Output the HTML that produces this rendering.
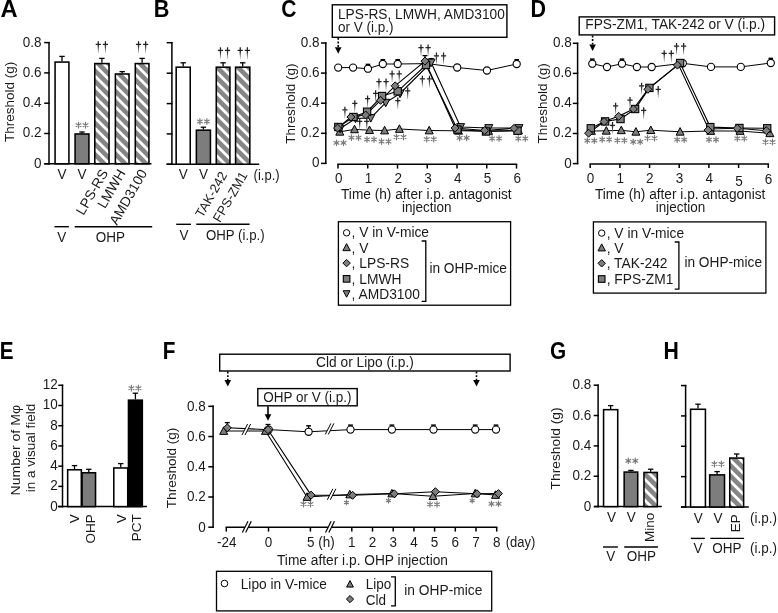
<!DOCTYPE html>
<html><head><meta charset="utf-8"><style>
html,body{margin:0;padding:0;background:#fff;}
svg{display:block;font-family:"Liberation Sans",sans-serif;filter:grayscale(1);}
</style></head><body>
<svg width="778" height="613" viewBox="0 0 778 613">
<rect width="778" height="613" fill="#fff"/>
<defs><pattern id="hatch" patternUnits="userSpaceOnUse" width="7.4" height="7.4" patternTransform="rotate(45)">
<rect width="7.4" height="7.4" fill="#858585"/><rect y="0" width="7.4" height="2.8" fill="#fff"/></pattern>
<linearGradient id="blade" x1="0" y1="0" x2="0" y2="1"><stop offset="0" stop-color="#222"/><stop offset="1" stop-color="#999"/></linearGradient></defs>
<text x="0" y="0" font-size="22.6" font-weight="bold" fill="#000" transform="translate(0.52 16.6) scale(1.05 1.05)">A</text>
<line x1="49" y1="41.9" x2="49" y2="164.5" stroke="#000" stroke-width="1.5" />
<line x1="44.2" y1="163.8" x2="49.7" y2="163.8" stroke="#000" stroke-width="1.5" />
<line x1="44.2" y1="133.5" x2="49.7" y2="133.5" stroke="#000" stroke-width="1.5" />
<line x1="44.2" y1="103.2" x2="49.7" y2="103.2" stroke="#000" stroke-width="1.5" />
<line x1="44.2" y1="72.9" x2="49.7" y2="72.9" stroke="#000" stroke-width="1.5" />
<line x1="44.2" y1="42.6" x2="49.7" y2="42.6" stroke="#000" stroke-width="1.5" />
<text x="41.6" y="167.8" font-size="13.5" text-anchor="end" fill="#1a1a1a" transform="translate(0 -13.42) scale(1 1.08)" >0</text>
<text x="41.6" y="137.5" font-size="13.5" text-anchor="end" fill="#1a1a1a" transform="translate(0 -11) scale(1 1.08)" >0.2</text>
<text x="41.6" y="107.2" font-size="13.5" text-anchor="end" fill="#1a1a1a" transform="translate(0 -8.58) scale(1 1.08)" >0.4</text>
<text x="41.6" y="76.9" font-size="13.5" text-anchor="end" fill="#1a1a1a" transform="translate(0 -6.15) scale(1 1.08)" >0.6</text>
<text x="41.6" y="46.6" font-size="13.5" text-anchor="end" fill="#1a1a1a" transform="translate(0 -3.73) scale(1 1.08)" >0.8</text>
<line x1="44.3" y1="163.8" x2="151.5" y2="163.8" stroke="#000" stroke-width="1.5" />
<text x="14.2" y="101.8" font-size="13.5" text-anchor="middle" fill="#1a1a1a" transform="rotate(-90 14.2 101.8)" >Threshold (g)</text>
<line x1="62" y1="61.3" x2="62" y2="56.4" stroke="#000" stroke-width="1.3" />
<line x1="59.3" y1="56.4" x2="64.7" y2="56.4" stroke="#000" stroke-width="1.3" />
<rect x="55.07" y="62.07" width="13.85" height="101.73" fill="#fff" stroke="#000" stroke-width="1.55" />
<line x1="82" y1="133.2" x2="82" y2="132" stroke="#000" stroke-width="1.3" />
<line x1="79.3" y1="132" x2="84.7" y2="132" stroke="#000" stroke-width="1.3" />
<rect x="75.08" y="133.97" width="13.85" height="29.83" fill="#7d7d7d" stroke="#000" stroke-width="1.55" />
<line x1="101.9" y1="62.8" x2="101.9" y2="58.4" stroke="#000" stroke-width="1.3" />
<line x1="99.2" y1="58.4" x2="104.6" y2="58.4" stroke="#000" stroke-width="1.3" />
<rect x="94.78" y="63.57" width="14.25" height="100.23" fill="url(#hatch)" stroke="#000" stroke-width="1.55" />
<line x1="122.2" y1="73.2" x2="122.2" y2="71.6" stroke="#000" stroke-width="1.3" />
<line x1="119.5" y1="71.6" x2="124.9" y2="71.6" stroke="#000" stroke-width="1.3" />
<rect x="115.38" y="73.98" width="13.65" height="89.83" fill="url(#hatch)" stroke="#000" stroke-width="1.55" />
<line x1="142.1" y1="62.8" x2="142.1" y2="58.4" stroke="#000" stroke-width="1.3" />
<line x1="139.4" y1="58.4" x2="144.8" y2="58.4" stroke="#000" stroke-width="1.3" />
<rect x="135.28" y="63.57" width="13.65" height="100.23" fill="url(#hatch)" stroke="#000" stroke-width="1.55" />
<path d="M78.5 122.3V127.9M76.08 123.7L80.92 126.5M76.08 126.5L80.92 123.7" stroke="#7a7a7a" stroke-width="1.2" stroke-linecap="round" fill="none"/>
<path d="M85.5 122.3V127.9M83.08 123.7L87.92 126.5M83.08 126.5L87.92 123.7" stroke="#7a7a7a" stroke-width="1.2" stroke-linecap="round" fill="none"/>
<path d="M98.3 41.2V44.98M95.7 44.38H100.9" stroke="#222" stroke-width="1.25" fill="none"/>
<path d="M97.55 44.78L99.05 44.78L98.5 52.9L98.1 52.9Z" fill="url(#blade)"/>
<path d="M105.4 41.2V44.98M102.8 44.38H108" stroke="#222" stroke-width="1.25" fill="none"/>
<path d="M104.65 44.78L106.15 44.78L105.6 52.9L105.2 52.9Z" fill="url(#blade)"/>
<path d="M138.55 41.2V44.98M135.95 44.38H141.15" stroke="#222" stroke-width="1.25" fill="none"/>
<path d="M137.8 44.78L139.3 44.78L138.75 52.9L138.35 52.9Z" fill="url(#blade)"/>
<path d="M145.65 41.2V44.98M143.05 44.38H148.25" stroke="#222" stroke-width="1.25" fill="none"/>
<path d="M144.9 44.78L146.4 44.78L145.85 52.9L145.45 52.9Z" fill="url(#blade)"/>
<text x="62" y="179.5" font-size="13.5" text-anchor="middle" fill="#1a1a1a" transform="translate(0 -14.36) scale(1 1.08)" >V</text>
<text x="82" y="179.5" font-size="13.5" text-anchor="middle" fill="#1a1a1a" transform="translate(0 -14.36) scale(1 1.08)" >V</text>
<text x="108.5" y="172.8" font-size="13.8" text-anchor="end" fill="#1a1a1a" transform="rotate(-60 108.5 172.8)" >LPS-RS</text>
<text x="126" y="172.8" font-size="13.8" text-anchor="end" fill="#1a1a1a" transform="rotate(-60 126 172.8)" >LMWH</text>
<text x="147.6" y="172.8" font-size="13.8" text-anchor="end" fill="#1a1a1a" transform="rotate(-60 147.6 172.8)" >AMD3100</text>
<line x1="54.5" y1="226.7" x2="68.9" y2="226.7" stroke="#000" stroke-width="1.4" />
<line x1="74.7" y1="226.7" x2="152.2" y2="226.7" stroke="#000" stroke-width="1.4" />
<text x="61.7" y="242" font-size="13.5" text-anchor="middle" fill="#1a1a1a" transform="translate(0 -19.36) scale(1 1.08)" >V</text>
<text x="110.5" y="242" font-size="13.5" text-anchor="middle" fill="#1a1a1a" transform="translate(0 -19.36) scale(1 1.08)" >OHP</text>
<text x="0" y="0" font-size="22.6" font-weight="bold" fill="#000" transform="translate(153.65 16.7) scale(0.96 1.05)">B</text>
<line x1="171.9" y1="42" x2="171.9" y2="164.9" stroke="#000" stroke-width="1.5" />
<line x1="166.7" y1="164.2" x2="172.6" y2="164.2" stroke="#000" stroke-width="1.5" />
<line x1="166.7" y1="133.9" x2="172.6" y2="133.9" stroke="#000" stroke-width="1.5" />
<line x1="166.7" y1="103.6" x2="172.6" y2="103.6" stroke="#000" stroke-width="1.5" />
<line x1="166.7" y1="73.2" x2="172.6" y2="73.2" stroke="#000" stroke-width="1.5" />
<line x1="166.7" y1="42.7" x2="172.6" y2="42.7" stroke="#000" stroke-width="1.5" />
<line x1="166.5" y1="164.2" x2="259.2" y2="164.2" stroke="#000" stroke-width="1.5" />
<line x1="183.2" y1="66.4" x2="183.2" y2="62.8" stroke="#000" stroke-width="1.3" />
<line x1="180.5" y1="62.8" x2="185.9" y2="62.8" stroke="#000" stroke-width="1.3" />
<rect x="176.18" y="67.18" width="14.05" height="97.02" fill="#fff" stroke="#000" stroke-width="1.55" />
<line x1="203.4" y1="129.4" x2="203.4" y2="127.2" stroke="#000" stroke-width="1.3" />
<line x1="200.7" y1="127.2" x2="206.1" y2="127.2" stroke="#000" stroke-width="1.3" />
<rect x="196.38" y="130.18" width="14.05" height="34.02" fill="#7d7d7d" stroke="#000" stroke-width="1.55" />
<line x1="223.1" y1="66.4" x2="223.1" y2="62.8" stroke="#000" stroke-width="1.3" />
<line x1="220.4" y1="62.8" x2="225.8" y2="62.8" stroke="#000" stroke-width="1.3" />
<rect x="216.28" y="67.18" width="13.65" height="97.02" fill="url(#hatch)" stroke="#000" stroke-width="1.55" />
<line x1="242.7" y1="66.4" x2="242.7" y2="62.8" stroke="#000" stroke-width="1.3" />
<line x1="240" y1="62.8" x2="245.4" y2="62.8" stroke="#000" stroke-width="1.3" />
<rect x="235.58" y="67.18" width="14.25" height="97.02" fill="url(#hatch)" stroke="#000" stroke-width="1.55" />
<path d="M199.9 118.7V124.3M197.48 120.1L202.32 122.9M197.48 122.9L202.32 120.1" stroke="#7a7a7a" stroke-width="1.2" stroke-linecap="round" fill="none"/>
<path d="M206.9 118.7V124.3M204.48 120.1L209.32 122.9M204.48 122.9L209.32 120.1" stroke="#7a7a7a" stroke-width="1.2" stroke-linecap="round" fill="none"/>
<path d="M220.45 47.2V50.98M217.85 50.38H223.05" stroke="#222" stroke-width="1.25" fill="none"/>
<path d="M219.7 50.78L221.2 50.78L220.65 58.9L220.25 58.9Z" fill="url(#blade)"/>
<path d="M227.55 47.2V50.98M224.95 50.38H230.15" stroke="#222" stroke-width="1.25" fill="none"/>
<path d="M226.8 50.78L228.3 50.78L227.75 58.9L227.35 58.9Z" fill="url(#blade)"/>
<path d="M240.25 47.2V50.98M237.65 50.38H242.85" stroke="#222" stroke-width="1.25" fill="none"/>
<path d="M239.5 50.78L241 50.78L240.45 58.9L240.05 58.9Z" fill="url(#blade)"/>
<path d="M247.35 47.2V50.98M244.75 50.38H249.95" stroke="#222" stroke-width="1.25" fill="none"/>
<path d="M246.6 50.78L248.1 50.78L247.55 58.9L247.15 58.9Z" fill="url(#blade)"/>
<text x="183.2" y="179.5" font-size="13.5" text-anchor="middle" fill="#1a1a1a" transform="translate(0 -14.36) scale(1 1.08)" >V</text>
<text x="203.4" y="179.5" font-size="13.5" text-anchor="middle" fill="#1a1a1a" transform="translate(0 -14.36) scale(1 1.08)" >V</text>
<text x="227.6" y="175" font-size="13.0" text-anchor="end" fill="#1a1a1a" transform="rotate(-60 227.6 175)" >TAK-242</text>
<text x="247.9" y="175" font-size="13.0" text-anchor="end" fill="#1a1a1a" transform="rotate(-60 247.9 175)" >FPS-ZM1</text>
<text x="253.6" y="180.3" font-size="13" text-anchor="start" fill="#1a1a1a" transform="translate(0 -14.42) scale(1 1.08)" >(i.p.)</text>
<line x1="176.2" y1="224.3" x2="190.9" y2="224.3" stroke="#000" stroke-width="1.4" />
<line x1="196.3" y1="224.3" x2="249.6" y2="224.3" stroke="#000" stroke-width="1.4" />
<text x="184" y="239.6" font-size="13.5" text-anchor="middle" fill="#1a1a1a" transform="translate(0 -19.17) scale(1 1.08)" >V</text>
<text x="206" y="239.6" font-size="13.5" text-anchor="start" fill="#1a1a1a" textLength="58.6" lengthAdjust="spacingAndGlyphs" transform="translate(0 -19.17) scale(1 1.08)" >OHP (i.p.)</text>
<text x="0" y="0" font-size="22.6" font-weight="bold" fill="#000" transform="translate(281.34 16.7) scale(0.93 1.05)">C</text>
<rect x="332.3" y="4.8" width="174.6" height="32.5" fill="#fff" stroke="#000" stroke-width="1.4" />
<text x="338" y="18.6" font-size="13.5" text-anchor="start" fill="#1a1a1a" textLength="166.8" lengthAdjust="spacingAndGlyphs" transform="translate(0 -1.49) scale(1 1.08)" >LPS-RS, LMWH, AMD3100</text>
<text x="338" y="32.1" font-size="13.5" text-anchor="start" fill="#1a1a1a" transform="translate(0 -2.57) scale(1 1.08)" >or V (i.p.)</text>
<line x1="338.2" y1="37.9" x2="338.2" y2="48.7" stroke="#000" stroke-width="1.6" stroke-dasharray="1.9,1.7"/>
<polygon points="334.9,47.2 341.5,47.2 338.2,53.7" fill="#000"/>
<line x1="325.8" y1="42.3" x2="325.8" y2="164.1" stroke="#000" stroke-width="1.5" />
<line x1="321" y1="163.4" x2="326.5" y2="163.4" stroke="#000" stroke-width="1.5" />
<line x1="321" y1="133.3" x2="326.5" y2="133.3" stroke="#000" stroke-width="1.5" />
<line x1="321" y1="103.2" x2="326.5" y2="103.2" stroke="#000" stroke-width="1.5" />
<line x1="321" y1="73.1" x2="326.5" y2="73.1" stroke="#000" stroke-width="1.5" />
<line x1="321" y1="43" x2="326.5" y2="43" stroke="#000" stroke-width="1.5" />
<text x="319.6" y="167.4" font-size="13.5" text-anchor="end" fill="#1a1a1a" transform="translate(0 -13.39) scale(1 1.08)" >0</text>
<text x="319.6" y="137.3" font-size="13.5" text-anchor="end" fill="#1a1a1a" transform="translate(0 -10.98) scale(1 1.08)" >0.2</text>
<text x="319.6" y="107.2" font-size="13.5" text-anchor="end" fill="#1a1a1a" transform="translate(0 -8.58) scale(1 1.08)" >0.4</text>
<text x="319.6" y="77.1" font-size="13.5" text-anchor="end" fill="#1a1a1a" transform="translate(0 -6.17) scale(1 1.08)" >0.6</text>
<text x="319.6" y="47" font-size="13.5" text-anchor="end" fill="#1a1a1a" transform="translate(0 -3.76) scale(1 1.08)" >0.8</text>
<text x="295.2" y="103.6" font-size="13.5" text-anchor="middle" fill="#1a1a1a" transform="rotate(-90 295.2 103.6)" >Threshold (g)</text>
<line x1="337.2" y1="164.3" x2="517.3" y2="164.3" stroke="#000" stroke-width="1.5" />
<line x1="338" y1="164.3" x2="338" y2="168.6" stroke="#000" stroke-width="1.5" />
<text x="338.8" y="182.9" font-size="13.5" text-anchor="middle" fill="#1a1a1a" transform="translate(0 -14.63) scale(1 1.08)" >0</text>
<line x1="367.75" y1="164.3" x2="367.75" y2="168.6" stroke="#000" stroke-width="1.5" />
<text x="368.55" y="182.9" font-size="13.5" text-anchor="middle" fill="#1a1a1a" transform="translate(0 -14.63) scale(1 1.08)" >1</text>
<line x1="397.5" y1="164.3" x2="397.5" y2="168.6" stroke="#000" stroke-width="1.5" />
<text x="398.3" y="182.9" font-size="13.5" text-anchor="middle" fill="#1a1a1a" transform="translate(0 -14.63) scale(1 1.08)" >2</text>
<line x1="427.25" y1="164.3" x2="427.25" y2="168.6" stroke="#000" stroke-width="1.5" />
<text x="428.05" y="182.9" font-size="13.5" text-anchor="middle" fill="#1a1a1a" transform="translate(0 -14.63) scale(1 1.08)" >3</text>
<line x1="457" y1="164.3" x2="457" y2="168.6" stroke="#000" stroke-width="1.5" />
<text x="457.8" y="182.9" font-size="13.5" text-anchor="middle" fill="#1a1a1a" transform="translate(0 -14.63) scale(1 1.08)" >4</text>
<line x1="486.75" y1="164.3" x2="486.75" y2="168.6" stroke="#000" stroke-width="1.5" />
<text x="487.55" y="182.9" font-size="13.5" text-anchor="middle" fill="#1a1a1a" transform="translate(0 -14.63) scale(1 1.08)" >5</text>
<line x1="516.5" y1="164.3" x2="516.5" y2="168.6" stroke="#000" stroke-width="1.5" />
<text x="517.3" y="182.9" font-size="13.5" text-anchor="middle" fill="#1a1a1a" transform="translate(0 -14.63) scale(1 1.08)" >6</text>
<text x="341" y="199.3" font-size="13.5" text-anchor="start" fill="#1a1a1a" textLength="170.6" lengthAdjust="spacingAndGlyphs" transform="translate(0 -15.94) scale(1 1.08)" >Time (h) after i.p. antagonist</text>
<text x="426.8" y="212.1" font-size="13.5" text-anchor="middle" fill="#1a1a1a" transform="translate(0 -16.97) scale(1 1.08)" >injection</text>
<polyline points="338.2,67.6 353.07,67.6 367.95,68.7 382.82,64 397.7,64 427.45,63.6 457.2,67.5 486.95,70.5 516.7,64" stroke="#000" stroke-width="1.0" fill="none" />
<polyline points="339.8,131.8 354.5,129.4 369.5,130.2 384.6,130.5 399.4,129 429.2,130.5 458.5,130.8 488.5,131 518.5,130.5" stroke="#000" stroke-width="1.0" fill="none" />
<polyline points="340.2,128.5 355.5,118.5 370.8,117.9 385.7,102.6 400,93.5 431.1,62.5 460.6,127 488.8,128 519,128" stroke="#000" stroke-width="1.1" fill="none" />
<polyline points="338.3,127 353.5,117 367.1,111.7 382.1,96 397.7,91.3 426,65 457.4,129.6 486,131.5 517.5,130.7" stroke="#000" stroke-width="1.1" fill="none" />
<polyline points="337.5,128.1 350.9,117 365.6,115 380.5,100.3 395.1,85.8 425,61.1 455.1,128 484.7,130.5 514,128.3" stroke="#000" stroke-width="1.1" fill="none" />
<line x1="367.95" y1="65.7" x2="367.95" y2="64.4" stroke="#000" stroke-width="1.5" />
<line x1="365.65" y1="64.4" x2="370.25" y2="64.4" stroke="#000" stroke-width="1.5" />
<line x1="382.82" y1="61" x2="382.82" y2="59.7" stroke="#000" stroke-width="1.5" />
<line x1="380.52" y1="59.7" x2="385.12" y2="59.7" stroke="#000" stroke-width="1.5" />
<line x1="397.7" y1="61" x2="397.7" y2="59.7" stroke="#000" stroke-width="1.5" />
<line x1="395.4" y1="59.7" x2="400" y2="59.7" stroke="#000" stroke-width="1.5" />
<line x1="516.7" y1="61" x2="516.7" y2="59.7" stroke="#000" stroke-width="1.5" />
<line x1="514.4" y1="59.7" x2="519" y2="59.7" stroke="#000" stroke-width="1.5" />
<line x1="425" y1="58" x2="425" y2="55.6" stroke="#000" stroke-width="1.3" />
<line x1="422.5" y1="55.6" x2="427.5" y2="55.6" stroke="#000" stroke-width="1.3" />
<line x1="431.1" y1="60" x2="431.1" y2="58.6" stroke="#000" stroke-width="1.3" />
<line x1="428.6" y1="58.6" x2="433.6" y2="58.6" stroke="#000" stroke-width="1.3" />
<circle cx="338.2" cy="67.6" r="3.6" fill="#fff" stroke="#000" stroke-width="1.1"/>
<circle cx="353.07" cy="67.6" r="3.6" fill="#fff" stroke="#000" stroke-width="1.1"/>
<circle cx="367.95" cy="68.7" r="3.6" fill="#fff" stroke="#000" stroke-width="1.1"/>
<circle cx="382.82" cy="64" r="3.6" fill="#fff" stroke="#000" stroke-width="1.1"/>
<circle cx="397.7" cy="64" r="3.6" fill="#fff" stroke="#000" stroke-width="1.1"/>
<circle cx="427.45" cy="63.6" r="3.6" fill="#fff" stroke="#000" stroke-width="1.1"/>
<circle cx="457.2" cy="67.5" r="3.6" fill="#fff" stroke="#000" stroke-width="1.1"/>
<circle cx="486.95" cy="70.5" r="3.6" fill="#fff" stroke="#000" stroke-width="1.1"/>
<circle cx="516.7" cy="64" r="3.6" fill="#fff" stroke="#000" stroke-width="1.1"/>
<polygon points="339.8,127.6 343.79,135.16 335.81,135.16" fill="#7d7d7d" stroke="#000" stroke-width="1.0"/>
<polygon points="354.5,125.2 358.49,132.76 350.51,132.76" fill="#7d7d7d" stroke="#000" stroke-width="1.0"/>
<polygon points="369.5,126 373.49,133.56 365.51,133.56" fill="#7d7d7d" stroke="#000" stroke-width="1.0"/>
<polygon points="384.6,126.3 388.59,133.86 380.61,133.86" fill="#7d7d7d" stroke="#000" stroke-width="1.0"/>
<polygon points="399.4,124.8 403.39,132.36 395.41,132.36" fill="#7d7d7d" stroke="#000" stroke-width="1.0"/>
<polygon points="429.2,126.3 433.19,133.86 425.21,133.86" fill="#7d7d7d" stroke="#000" stroke-width="1.0"/>
<polygon points="458.5,126.6 462.49,134.16 454.51,134.16" fill="#7d7d7d" stroke="#000" stroke-width="1.0"/>
<polygon points="488.5,126.8 492.49,134.36 484.51,134.36" fill="#7d7d7d" stroke="#000" stroke-width="1.0"/>
<polygon points="518.5,126.3 522.49,133.86 514.51,133.86" fill="#7d7d7d" stroke="#000" stroke-width="1.0"/>
<polygon points="340.2,132.7 344.19,125.14 336.21,125.14" fill="#7d7d7d" stroke="#000" stroke-width="1.0"/>
<polygon points="355.5,122.7 359.49,115.14 351.51,115.14" fill="#7d7d7d" stroke="#000" stroke-width="1.0"/>
<polygon points="370.8,122.1 374.79,114.54 366.81,114.54" fill="#7d7d7d" stroke="#000" stroke-width="1.0"/>
<polygon points="385.7,106.8 389.69,99.24 381.71,99.24" fill="#7d7d7d" stroke="#000" stroke-width="1.0"/>
<polygon points="400,97.7 403.99,90.14 396.01,90.14" fill="#7d7d7d" stroke="#000" stroke-width="1.0"/>
<polygon points="431.1,66.7 435.09,59.14 427.11,59.14" fill="#7d7d7d" stroke="#000" stroke-width="1.0"/>
<polygon points="460.6,131.2 464.59,123.64 456.61,123.64" fill="#7d7d7d" stroke="#000" stroke-width="1.0"/>
<polygon points="488.8,132.2 492.79,124.64 484.81,124.64" fill="#7d7d7d" stroke="#000" stroke-width="1.0"/>
<polygon points="519,132.2 522.99,124.64 515.01,124.64" fill="#7d7d7d" stroke="#000" stroke-width="1.0"/>
<rect x="334.65" y="123.35" width="7.3" height="7.3" fill="#7d7d7d" stroke="#000" stroke-width="1.1" />
<rect x="349.85" y="113.35" width="7.3" height="7.3" fill="#7d7d7d" stroke="#000" stroke-width="1.1" />
<rect x="363.45" y="108.05" width="7.3" height="7.3" fill="#7d7d7d" stroke="#000" stroke-width="1.1" />
<rect x="378.45" y="92.35" width="7.3" height="7.3" fill="#7d7d7d" stroke="#000" stroke-width="1.1" />
<rect x="394.05" y="87.65" width="7.3" height="7.3" fill="#7d7d7d" stroke="#000" stroke-width="1.1" />
<rect x="422.35" y="61.35" width="7.3" height="7.3" fill="#7d7d7d" stroke="#000" stroke-width="1.1" />
<rect x="453.75" y="125.95" width="7.3" height="7.3" fill="#7d7d7d" stroke="#000" stroke-width="1.1" />
<rect x="482.35" y="127.85" width="7.3" height="7.3" fill="#7d7d7d" stroke="#000" stroke-width="1.1" />
<rect x="513.85" y="127.05" width="7.3" height="7.3" fill="#7d7d7d" stroke="#000" stroke-width="1.1" />
<polygon points="337.5,124.1 341.5,128.1 337.5,132.1 333.5,128.1" fill="#7d7d7d" stroke="#000" stroke-width="1.0"/>
<polygon points="350.9,113 354.9,117 350.9,121 346.9,117" fill="#7d7d7d" stroke="#000" stroke-width="1.0"/>
<polygon points="365.6,111 369.6,115 365.6,119 361.6,115" fill="#7d7d7d" stroke="#000" stroke-width="1.0"/>
<polygon points="380.5,96.3 384.5,100.3 380.5,104.3 376.5,100.3" fill="#7d7d7d" stroke="#000" stroke-width="1.0"/>
<polygon points="395.1,81.8 399.1,85.8 395.1,89.8 391.1,85.8" fill="#7d7d7d" stroke="#000" stroke-width="1.0"/>
<polygon points="425,57.1 429,61.1 425,65.1 421,61.1" fill="#7d7d7d" stroke="#000" stroke-width="1.0"/>
<polygon points="455.1,124 459.1,128 455.1,132 451.1,128" fill="#7d7d7d" stroke="#000" stroke-width="1.0"/>
<polygon points="484.7,126.5 488.7,130.5 484.7,134.5 480.7,130.5" fill="#7d7d7d" stroke="#000" stroke-width="1.0"/>
<polygon points="514,124.3 518,128.3 514,132.3 510,128.3" fill="#7d7d7d" stroke="#000" stroke-width="1.0"/>
<path d="M336.5 140V145.6M334.08 141.4L338.92 144.2M334.08 144.2L338.92 141.4" stroke="#7a7a7a" stroke-width="1.2" stroke-linecap="round" fill="none"/>
<path d="M343.5 140V145.6M341.08 141.4L345.92 144.2M341.08 144.2L345.92 141.4" stroke="#7a7a7a" stroke-width="1.2" stroke-linecap="round" fill="none"/>
<path d="M351.5 134.8V140.4M349.08 136.2L353.92 139M349.08 139L353.92 136.2" stroke="#7a7a7a" stroke-width="1.2" stroke-linecap="round" fill="none"/>
<path d="M358.5 134.8V140.4M356.08 136.2L360.92 139M356.08 139L360.92 136.2" stroke="#7a7a7a" stroke-width="1.2" stroke-linecap="round" fill="none"/>
<path d="M367 136.7V142.3M364.58 138.1L369.42 140.9M364.58 140.9L369.42 138.1" stroke="#7a7a7a" stroke-width="1.2" stroke-linecap="round" fill="none"/>
<path d="M374 136.7V142.3M371.58 138.1L376.42 140.9M371.58 140.9L376.42 138.1" stroke="#7a7a7a" stroke-width="1.2" stroke-linecap="round" fill="none"/>
<path d="M381.5 138.7V144.3M379.08 140.1L383.92 142.9M379.08 142.9L383.92 140.1" stroke="#7a7a7a" stroke-width="1.2" stroke-linecap="round" fill="none"/>
<path d="M388.5 138.7V144.3M386.08 140.1L390.92 142.9M386.08 142.9L390.92 140.1" stroke="#7a7a7a" stroke-width="1.2" stroke-linecap="round" fill="none"/>
<path d="M396.5 134.2V139.8M394.08 135.6L398.92 138.4M394.08 138.4L398.92 135.6" stroke="#7a7a7a" stroke-width="1.2" stroke-linecap="round" fill="none"/>
<path d="M403.5 134.2V139.8M401.08 135.6L405.92 138.4M401.08 138.4L405.92 135.6" stroke="#7a7a7a" stroke-width="1.2" stroke-linecap="round" fill="none"/>
<path d="M426.7 136.3V141.9M424.28 137.7L429.12 140.5M424.28 140.5L429.12 137.7" stroke="#7a7a7a" stroke-width="1.2" stroke-linecap="round" fill="none"/>
<path d="M433.7 136.3V141.9M431.28 137.7L436.12 140.5M431.28 140.5L436.12 137.7" stroke="#7a7a7a" stroke-width="1.2" stroke-linecap="round" fill="none"/>
<path d="M459.6 135.1V140.7M457.18 136.5L462.02 139.3M457.18 139.3L462.02 136.5" stroke="#7a7a7a" stroke-width="1.2" stroke-linecap="round" fill="none"/>
<path d="M466.6 135.1V140.7M464.18 136.5L469.02 139.3M464.18 139.3L469.02 136.5" stroke="#7a7a7a" stroke-width="1.2" stroke-linecap="round" fill="none"/>
<path d="M492.1 135.7V141.3M489.68 137.1L494.52 139.9M489.68 139.9L494.52 137.1" stroke="#7a7a7a" stroke-width="1.2" stroke-linecap="round" fill="none"/>
<path d="M499.1 135.7V141.3M496.68 137.1L501.52 139.9M496.68 139.9L501.52 137.1" stroke="#7a7a7a" stroke-width="1.2" stroke-linecap="round" fill="none"/>
<path d="M518.3 135.7V141.3M515.88 137.1L520.72 139.9M515.88 139.9L520.72 137.1" stroke="#7a7a7a" stroke-width="1.2" stroke-linecap="round" fill="none"/>
<path d="M525.3 135.7V141.3M522.88 137.1L527.72 139.9M522.88 139.9L527.72 137.1" stroke="#7a7a7a" stroke-width="1.2" stroke-linecap="round" fill="none"/>
<path d="M344.9 106.8V110.58M342.3 109.98H347.5" stroke="#222" stroke-width="1.25" fill="none"/>
<path d="M344.15 110.38L345.65 110.38L345.1 118.5L344.7 118.5Z" fill="url(#blade)"/>
<path d="M354.8 100.3V104.08M352.2 103.48H357.4" stroke="#222" stroke-width="1.25" fill="none"/>
<path d="M354.05 103.88L355.55 103.88L355 112L354.6 112Z" fill="url(#blade)"/>
<path d="M359.7 118.3V122.08M357.1 121.48H362.3" stroke="#222" stroke-width="1.25" fill="none"/>
<path d="M358.95 121.88L360.45 121.88L359.9 130L359.5 130Z" fill="url(#blade)"/>
<path d="M366.8 118.3V122.08M364.2 121.48H369.4" stroke="#222" stroke-width="1.25" fill="none"/>
<path d="M366.05 121.88L367.55 121.88L367 130L366.6 130Z" fill="url(#blade)"/>
<path d="M367.6 95.4V99.18M365 98.58H370.2" stroke="#222" stroke-width="1.25" fill="none"/>
<path d="M366.85 98.98L368.35 98.98L367.8 107.1L367.4 107.1Z" fill="url(#blade)"/>
<path d="M375.6 90.2V93.98M373 93.38H378.2" stroke="#222" stroke-width="1.25" fill="none"/>
<path d="M374.85 93.78L376.35 93.78L375.8 101.9L375.4 101.9Z" fill="url(#blade)"/>
<path d="M378.95 78.5V82.28M376.35 81.68H381.55" stroke="#222" stroke-width="1.25" fill="none"/>
<path d="M378.2 82.08L379.7 82.08L379.15 90.2L378.75 90.2Z" fill="url(#blade)"/>
<path d="M386.05 78.5V82.28M383.45 81.68H388.65" stroke="#222" stroke-width="1.25" fill="none"/>
<path d="M385.3 82.08L386.8 82.08L386.25 90.2L385.85 90.2Z" fill="url(#blade)"/>
<path d="M392.1 70.6V74.38M389.5 73.78H394.7" stroke="#222" stroke-width="1.25" fill="none"/>
<path d="M391.35 74.18L392.85 74.18L392.3 82.3L391.9 82.3Z" fill="url(#blade)"/>
<path d="M399.2 70.6V74.38M396.6 73.78H401.8" stroke="#222" stroke-width="1.25" fill="none"/>
<path d="M398.45 74.18L399.95 74.18L399.4 82.3L399 82.3Z" fill="url(#blade)"/>
<path d="M407.7 87.6V91.38M405.1 90.78H410.3" stroke="#222" stroke-width="1.25" fill="none"/>
<path d="M406.95 91.18L408.45 91.18L407.9 99.3L407.5 99.3Z" fill="url(#blade)"/>
<path d="M397.8 97.4V101.18M395.2 100.58H400.4" stroke="#222" stroke-width="1.25" fill="none"/>
<path d="M397.05 100.98L398.55 100.98L398 109.1L397.6 109.1Z" fill="url(#blade)"/>
<path d="M421 44.4V48.18M418.4 47.58H423.6" stroke="#222" stroke-width="1.25" fill="none"/>
<path d="M420.25 47.98L421.75 47.98L421.2 56.1L420.8 56.1Z" fill="url(#blade)"/>
<path d="M428.1 44.4V48.18M425.5 47.58H430.7" stroke="#222" stroke-width="1.25" fill="none"/>
<path d="M427.35 47.98L428.85 47.98L428.3 56.1L427.9 56.1Z" fill="url(#blade)"/>
<path d="M436.45 52.6V56.38M433.85 55.78H439.05" stroke="#222" stroke-width="1.25" fill="none"/>
<path d="M435.7 56.18L437.2 56.18L436.65 64.3L436.25 64.3Z" fill="url(#blade)"/>
<path d="M443.55 52.6V56.38M440.95 55.78H446.15" stroke="#222" stroke-width="1.25" fill="none"/>
<path d="M442.8 56.18L444.3 56.18L443.75 64.3L443.35 64.3Z" fill="url(#blade)"/>
<path d="M422.35 75.8V79.58M419.75 78.98H424.95" stroke="#222" stroke-width="1.25" fill="none"/>
<path d="M421.6 79.38L423.1 79.38L422.55 87.5L422.15 87.5Z" fill="url(#blade)"/>
<path d="M429.45 75.8V79.58M426.85 78.98H432.05" stroke="#222" stroke-width="1.25" fill="none"/>
<path d="M428.7 79.38L430.2 79.38L429.65 87.5L429.25 87.5Z" fill="url(#blade)"/>
<rect x="338.4" y="221.7" width="172.2" height="83.5" fill="#fff" stroke="#000" stroke-width="1.3" />
<circle cx="346.6" cy="232.8" r="3.2" fill="#fff" stroke="#000" stroke-width="1.0"/>
<text x="351.6" y="237.5" font-size="13.8" text-anchor="start" fill="#1a1a1a" transform="translate(0 -19) scale(1 1.08)" >, V in V-mice</text>
<polygon points="346.6,243.65 350.31,250.67 342.9,250.67" fill="#7d7d7d" stroke="#000" stroke-width="1.0"/>
<text x="351.6" y="252.85" font-size="13.8" text-anchor="start" fill="#1a1a1a" transform="translate(0 -20.23) scale(1 1.08)" >, V</text>
<polygon points="346.6,259.4 350.3,263.1 346.6,266.8 342.9,263.1" fill="#7d7d7d" stroke="#000" stroke-width="1.0"/>
<text x="351.6" y="268.2" font-size="13.8" text-anchor="start" fill="#1a1a1a" transform="translate(0 -21.46) scale(1 1.08)" >, LPS-RS</text>
<rect x="343.3" y="275.55" width="6.6" height="6.6" fill="#7d7d7d" stroke="#000" stroke-width="1.1" />
<text x="351.6" y="283.55" font-size="13.8" text-anchor="start" fill="#1a1a1a" transform="translate(0 -22.68) scale(1 1.08)" >, LMWH</text>
<polygon points="346.6,297.2 350.02,290.72 343.18,290.72" fill="#7d7d7d" stroke="#000" stroke-width="1.0"/>
<text x="351.6" y="298.9" font-size="13.8" text-anchor="start" fill="#1a1a1a" transform="translate(0 -23.91) scale(1 1.08)" >, AMD3100</text>
<polyline points="421.6,241 425.8,241 425.8,301.4 421.6,301.4" stroke="#000" stroke-width="1.3" fill="none" />
<text x="429.4" y="273.1" font-size="13.7" text-anchor="start" fill="#1a1a1a" transform="translate(0 -21.85) scale(1 1.08)" >in OHP-mice</text>
<text x="0" y="0" font-size="22.6" font-weight="bold" fill="#000" transform="translate(530.57 16.6) scale(0.95 1.05)">D</text>
<rect x="579.2" y="16.9" width="195.4" height="18" fill="#fff" stroke="#000" stroke-width="1.4" />
<text x="585.3" y="29.5" font-size="13.5" text-anchor="start" fill="#1a1a1a" textLength="179.8" lengthAdjust="spacingAndGlyphs" transform="translate(0 -2.36) scale(1 1.08)" >FPS-ZM1, TAK-242 or V (i.p.)</text>
<line x1="592.6" y1="35.5" x2="592.6" y2="46" stroke="#000" stroke-width="1.6" stroke-dasharray="1.9,1.7"/>
<polygon points="589.3,44.5 595.9,44.5 592.6,51" fill="#000"/>
<line x1="577.6" y1="42.6" x2="577.6" y2="164.3" stroke="#000" stroke-width="1.5" />
<line x1="572.8" y1="163.6" x2="578.3" y2="163.6" stroke="#000" stroke-width="1.5" />
<line x1="572.8" y1="133.5" x2="578.3" y2="133.5" stroke="#000" stroke-width="1.5" />
<line x1="572.8" y1="103.4" x2="578.3" y2="103.4" stroke="#000" stroke-width="1.5" />
<line x1="572.8" y1="73.4" x2="578.3" y2="73.4" stroke="#000" stroke-width="1.5" />
<line x1="572.8" y1="43.3" x2="578.3" y2="43.3" stroke="#000" stroke-width="1.5" />
<text x="571.8" y="167.6" font-size="13.5" text-anchor="end" fill="#1a1a1a" transform="translate(0 -13.41) scale(1 1.08)" >0</text>
<text x="571.8" y="137.5" font-size="13.5" text-anchor="end" fill="#1a1a1a" transform="translate(0 -11) scale(1 1.08)" >0.2</text>
<text x="571.8" y="107.4" font-size="13.5" text-anchor="end" fill="#1a1a1a" transform="translate(0 -8.59) scale(1 1.08)" >0.4</text>
<text x="571.8" y="77.4" font-size="13.5" text-anchor="end" fill="#1a1a1a" transform="translate(0 -6.19) scale(1 1.08)" >0.6</text>
<text x="571.8" y="47.3" font-size="13.5" text-anchor="end" fill="#1a1a1a" transform="translate(0 -3.78) scale(1 1.08)" >0.8</text>
<text x="547.3" y="103.3" font-size="13.5" text-anchor="middle" fill="#1a1a1a" transform="rotate(-90 547.3 103.3)" >Threshold (g)</text>
<line x1="589.4" y1="163.9" x2="769" y2="163.9" stroke="#000" stroke-width="1.5" />
<line x1="590.2" y1="163.9" x2="590.2" y2="168" stroke="#000" stroke-width="1.5" />
<text x="590.5" y="183.5" font-size="13.5" text-anchor="middle" fill="#1a1a1a" transform="translate(0 -14.68) scale(1 1.08)" >0</text>
<line x1="619.88" y1="163.9" x2="619.88" y2="168" stroke="#000" stroke-width="1.5" />
<text x="620.18" y="183.5" font-size="13.5" text-anchor="middle" fill="#1a1a1a" transform="translate(0 -14.68) scale(1 1.08)" >1</text>
<line x1="649.56" y1="163.9" x2="649.56" y2="168" stroke="#000" stroke-width="1.5" />
<text x="649.86" y="183.5" font-size="13.5" text-anchor="middle" fill="#1a1a1a" transform="translate(0 -14.68) scale(1 1.08)" >2</text>
<line x1="679.24" y1="163.9" x2="679.24" y2="168" stroke="#000" stroke-width="1.5" />
<text x="679.54" y="183.5" font-size="13.5" text-anchor="middle" fill="#1a1a1a" transform="translate(0 -14.68) scale(1 1.08)" >3</text>
<line x1="708.92" y1="163.9" x2="708.92" y2="168" stroke="#000" stroke-width="1.5" />
<text x="709.22" y="183.5" font-size="13.5" text-anchor="middle" fill="#1a1a1a" transform="translate(0 -14.68) scale(1 1.08)" >4</text>
<line x1="738.6" y1="163.9" x2="738.6" y2="168" stroke="#000" stroke-width="1.5" />
<text x="738.9" y="185.9" font-size="13.5" text-anchor="middle" fill="#1a1a1a" transform="translate(0 -14.87) scale(1 1.08)" >5</text>
<line x1="768.28" y1="163.9" x2="768.28" y2="168" stroke="#000" stroke-width="1.5" />
<text x="768.58" y="184.3" font-size="13.5" text-anchor="middle" fill="#1a1a1a" transform="translate(0 -14.74) scale(1 1.08)" >6</text>
<text x="595" y="199.3" font-size="13.5" text-anchor="start" fill="#1a1a1a" textLength="170.4" lengthAdjust="spacingAndGlyphs" transform="translate(0 -15.94) scale(1 1.08)" >Time (h) after i.p. antagonist</text>
<text x="680.5" y="212.1" font-size="13.5" text-anchor="middle" fill="#1a1a1a" transform="translate(0 -16.97) scale(1 1.08)" >injection</text>
<polyline points="592.3,63.7 607,67 622,63.7 636.9,67 651.7,67 682.8,63.3 711,66.9 740.8,66.9 770.8,63" stroke="#000" stroke-width="1.0" fill="none" />
<polyline points="591.4,131 606.3,130.8 621.3,130.3 635.9,131.8 650.8,130.2 680.1,131.8 710.7,131 740,131 769.9,133.3" stroke="#000" stroke-width="1.0" fill="none" />
<polyline points="590.8,128.3 605.1,121.4 620.5,119 635.1,109 649.4,87.9 680.1,63 710.3,127.1 739.4,128 767.2,128.3" stroke="#000" stroke-width="1.1" fill="none" />
<polyline points="588.6,133.2 604,121.6 618.6,116.3 633.4,109 647.9,89.3 678.4,64.6 708.6,129 737.2,128.3 766.3,130.7" stroke="#000" stroke-width="1.1" fill="none" />
<line x1="592.3" y1="60.7" x2="592.3" y2="59.1" stroke="#000" stroke-width="1.5" />
<line x1="590" y1="59.1" x2="594.6" y2="59.1" stroke="#000" stroke-width="1.5" />
<line x1="622" y1="60.7" x2="622" y2="59.1" stroke="#000" stroke-width="1.5" />
<line x1="619.7" y1="59.1" x2="624.3" y2="59.1" stroke="#000" stroke-width="1.5" />
<line x1="770.8" y1="60" x2="770.8" y2="58.4" stroke="#000" stroke-width="1.5" />
<line x1="768.5" y1="58.4" x2="773.1" y2="58.4" stroke="#000" stroke-width="1.5" />
<circle cx="592.3" cy="63.7" r="3.6" fill="#fff" stroke="#000" stroke-width="1.1"/>
<circle cx="607" cy="67" r="3.6" fill="#fff" stroke="#000" stroke-width="1.1"/>
<circle cx="622" cy="63.7" r="3.6" fill="#fff" stroke="#000" stroke-width="1.1"/>
<circle cx="636.9" cy="67" r="3.6" fill="#fff" stroke="#000" stroke-width="1.1"/>
<circle cx="651.7" cy="67" r="3.6" fill="#fff" stroke="#000" stroke-width="1.1"/>
<circle cx="682.8" cy="63.3" r="3.6" fill="#fff" stroke="#000" stroke-width="1.1"/>
<circle cx="711" cy="66.9" r="3.6" fill="#fff" stroke="#000" stroke-width="1.1"/>
<circle cx="740.8" cy="66.9" r="3.6" fill="#fff" stroke="#000" stroke-width="1.1"/>
<circle cx="770.8" cy="63" r="3.6" fill="#fff" stroke="#000" stroke-width="1.1"/>
<polygon points="591.4,126.8 595.39,134.36 587.41,134.36" fill="#7d7d7d" stroke="#000" stroke-width="1.0"/>
<polygon points="606.3,126.6 610.29,134.16 602.31,134.16" fill="#7d7d7d" stroke="#000" stroke-width="1.0"/>
<polygon points="621.3,126.1 625.29,133.66 617.31,133.66" fill="#7d7d7d" stroke="#000" stroke-width="1.0"/>
<polygon points="635.9,127.6 639.89,135.16 631.91,135.16" fill="#7d7d7d" stroke="#000" stroke-width="1.0"/>
<polygon points="650.8,126 654.79,133.56 646.81,133.56" fill="#7d7d7d" stroke="#000" stroke-width="1.0"/>
<polygon points="680.1,127.6 684.09,135.16 676.11,135.16" fill="#7d7d7d" stroke="#000" stroke-width="1.0"/>
<polygon points="710.7,126.8 714.69,134.36 706.71,134.36" fill="#7d7d7d" stroke="#000" stroke-width="1.0"/>
<polygon points="740,126.8 743.99,134.36 736.01,134.36" fill="#7d7d7d" stroke="#000" stroke-width="1.0"/>
<polygon points="769.9,129.1 773.89,136.66 765.91,136.66" fill="#7d7d7d" stroke="#000" stroke-width="1.0"/>
<rect x="587.15" y="124.65" width="7.3" height="7.3" fill="#7d7d7d" stroke="#000" stroke-width="1.1" />
<rect x="601.45" y="117.75" width="7.3" height="7.3" fill="#7d7d7d" stroke="#000" stroke-width="1.1" />
<rect x="616.85" y="115.35" width="7.3" height="7.3" fill="#7d7d7d" stroke="#000" stroke-width="1.1" />
<rect x="631.45" y="105.35" width="7.3" height="7.3" fill="#7d7d7d" stroke="#000" stroke-width="1.1" />
<rect x="645.75" y="84.25" width="7.3" height="7.3" fill="#7d7d7d" stroke="#000" stroke-width="1.1" />
<rect x="676.45" y="59.35" width="7.3" height="7.3" fill="#7d7d7d" stroke="#000" stroke-width="1.1" />
<rect x="706.65" y="123.45" width="7.3" height="7.3" fill="#7d7d7d" stroke="#000" stroke-width="1.1" />
<rect x="735.75" y="124.35" width="7.3" height="7.3" fill="#7d7d7d" stroke="#000" stroke-width="1.1" />
<rect x="763.55" y="124.65" width="7.3" height="7.3" fill="#7d7d7d" stroke="#000" stroke-width="1.1" />
<polygon points="588.6,129.2 592.6,133.2 588.6,137.2 584.6,133.2" fill="#7d7d7d" stroke="#000" stroke-width="1.0"/>
<polygon points="604,117.6 608,121.6 604,125.6 600,121.6" fill="#7d7d7d" stroke="#000" stroke-width="1.0"/>
<polygon points="618.6,112.3 622.6,116.3 618.6,120.3 614.6,116.3" fill="#7d7d7d" stroke="#000" stroke-width="1.0"/>
<polygon points="633.4,105 637.4,109 633.4,113 629.4,109" fill="#7d7d7d" stroke="#000" stroke-width="1.0"/>
<polygon points="647.9,85.3 651.9,89.3 647.9,93.3 643.9,89.3" fill="#7d7d7d" stroke="#000" stroke-width="1.0"/>
<polygon points="677.4,61.1 681.4,65.1 677.4,69.1 673.4,65.1" fill="#7d7d7d" stroke="#000" stroke-width="1.0"/>
<polygon points="708,126.1 712,130.1 708,134.1 704,130.1" fill="#7d7d7d" stroke="#000" stroke-width="1.0"/>
<polygon points="737.2,124.3 741.2,128.3 737.2,132.3 733.2,128.3" fill="#7d7d7d" stroke="#000" stroke-width="1.0"/>
<polygon points="766.3,126.7 770.3,130.7 766.3,134.7 762.3,130.7" fill="#7d7d7d" stroke="#000" stroke-width="1.0"/>
<path d="M587.3 137.8V143.4M584.88 139.2L589.72 142M584.88 142L589.72 139.2" stroke="#7a7a7a" stroke-width="1.2" stroke-linecap="round" fill="none"/>
<path d="M594.3 137.8V143.4M591.88 139.2L596.72 142M591.88 142L596.72 139.2" stroke="#7a7a7a" stroke-width="1.2" stroke-linecap="round" fill="none"/>
<path d="M602.2 136.7V142.3M599.78 138.1L604.62 140.9M599.78 140.9L604.62 138.1" stroke="#7a7a7a" stroke-width="1.2" stroke-linecap="round" fill="none"/>
<path d="M609.2 136.7V142.3M606.78 138.1L611.62 140.9M606.78 140.9L611.62 138.1" stroke="#7a7a7a" stroke-width="1.2" stroke-linecap="round" fill="none"/>
<path d="M617.4 137.6V143.2M614.98 139L619.82 141.8M614.98 141.8L619.82 139" stroke="#7a7a7a" stroke-width="1.2" stroke-linecap="round" fill="none"/>
<path d="M624.4 137.6V143.2M621.98 139L626.82 141.8M621.98 141.8L626.82 139" stroke="#7a7a7a" stroke-width="1.2" stroke-linecap="round" fill="none"/>
<path d="M633.2 139V144.6M630.78 140.4L635.62 143.2M630.78 143.2L635.62 140.4" stroke="#7a7a7a" stroke-width="1.2" stroke-linecap="round" fill="none"/>
<path d="M640.2 139V144.6M637.78 140.4L642.62 143.2M637.78 143.2L642.62 140.4" stroke="#7a7a7a" stroke-width="1.2" stroke-linecap="round" fill="none"/>
<path d="M647.5 135.3V140.9M645.08 136.7L649.92 139.5M645.08 139.5L649.92 136.7" stroke="#7a7a7a" stroke-width="1.2" stroke-linecap="round" fill="none"/>
<path d="M654.5 135.3V140.9M652.08 136.7L656.92 139.5M652.08 139.5L656.92 136.7" stroke="#7a7a7a" stroke-width="1.2" stroke-linecap="round" fill="none"/>
<path d="M677.2 136.8V142.4M674.78 138.2L679.62 141M674.78 141L679.62 138.2" stroke="#7a7a7a" stroke-width="1.2" stroke-linecap="round" fill="none"/>
<path d="M684.2 136.8V142.4M681.78 138.2L686.62 141M681.78 141L686.62 138.2" stroke="#7a7a7a" stroke-width="1.2" stroke-linecap="round" fill="none"/>
<path d="M709 136.8V142.4M706.58 138.2L711.42 141M706.58 141L711.42 138.2" stroke="#7a7a7a" stroke-width="1.2" stroke-linecap="round" fill="none"/>
<path d="M716 136.8V142.4M713.58 138.2L718.42 141M713.58 141L718.42 138.2" stroke="#7a7a7a" stroke-width="1.2" stroke-linecap="round" fill="none"/>
<path d="M737.3 135.6V141.2M734.88 137L739.72 139.8M734.88 139.8L739.72 137" stroke="#7a7a7a" stroke-width="1.2" stroke-linecap="round" fill="none"/>
<path d="M744.3 135.6V141.2M741.88 137L746.72 139.8M741.88 139.8L746.72 137" stroke="#7a7a7a" stroke-width="1.2" stroke-linecap="round" fill="none"/>
<path d="M765.5 139.2V144.8M763.08 140.6L767.92 143.4M763.08 143.4L767.92 140.6" stroke="#7a7a7a" stroke-width="1.2" stroke-linecap="round" fill="none"/>
<path d="M772.5 139.2V144.8M770.08 140.6L774.92 143.4M770.08 143.4L774.92 140.6" stroke="#7a7a7a" stroke-width="1.2" stroke-linecap="round" fill="none"/>
<path d="M612.5 122.1V125.88M609.9 125.28H615.1" stroke="#222" stroke-width="1.25" fill="none"/>
<path d="M611.75 125.68L613.25 125.68L612.7 133.8L612.3 133.8Z" fill="url(#blade)"/>
<path d="M615.6 102.7V106.48M613 105.88H618.2" stroke="#222" stroke-width="1.25" fill="none"/>
<path d="M614.85 106.28L616.35 106.28L615.8 114.4L615.4 114.4Z" fill="url(#blade)"/>
<path d="M630 97V100.78M627.4 100.18H632.6" stroke="#222" stroke-width="1.25" fill="none"/>
<path d="M629.25 100.58L630.75 100.58L630.2 108.7L629.8 108.7Z" fill="url(#blade)"/>
<path d="M643.7 107.3V111.08M641.1 110.48H646.3" stroke="#222" stroke-width="1.25" fill="none"/>
<path d="M642.95 110.88L644.45 110.88L643.9 119L643.5 119Z" fill="url(#blade)"/>
<path d="M641.6 82.7V86.48M639 85.88H644.2" stroke="#222" stroke-width="1.25" fill="none"/>
<path d="M640.85 86.28L642.35 86.28L641.8 94.4L641.4 94.4Z" fill="url(#blade)"/>
<path d="M658.2 86.1V89.88M655.6 89.28H660.8" stroke="#222" stroke-width="1.25" fill="none"/>
<path d="M657.45 89.68L658.95 89.68L658.4 97.8L658 97.8Z" fill="url(#blade)"/>
<path d="M664.2 50.2V53.98M661.6 53.38H666.8" stroke="#222" stroke-width="1.25" fill="none"/>
<path d="M663.45 53.78L664.95 53.78L664.4 61.9L664 61.9Z" fill="url(#blade)"/>
<path d="M671.3 50.2V53.98M668.7 53.38H673.9" stroke="#222" stroke-width="1.25" fill="none"/>
<path d="M670.55 53.78L672.05 53.78L671.5 61.9L671.1 61.9Z" fill="url(#blade)"/>
<path d="M676.55 43V46.78M673.95 46.18H679.15" stroke="#222" stroke-width="1.25" fill="none"/>
<path d="M675.8 46.58L677.3 46.58L676.75 54.7L676.35 54.7Z" fill="url(#blade)"/>
<path d="M683.65 43V46.78M681.05 46.18H686.25" stroke="#222" stroke-width="1.25" fill="none"/>
<path d="M682.9 46.58L684.4 46.58L683.85 54.7L683.45 54.7Z" fill="url(#blade)"/>
<rect x="593.4" y="221.9" width="172.5" height="71.2" fill="#fff" stroke="#000" stroke-width="1.3" />
<circle cx="601.7" cy="233.1" r="3.2" fill="#fff" stroke="#000" stroke-width="1.0"/>
<text x="606.7" y="237.8" font-size="13.8" text-anchor="start" fill="#1a1a1a" transform="translate(0 -19.02) scale(1 1.08)" >, V in V-mice</text>
<polygon points="601.7,243.9 605.41,250.92 598,250.92" fill="#7d7d7d" stroke="#000" stroke-width="1.0"/>
<text x="606.7" y="253.1" font-size="13.8" text-anchor="start" fill="#1a1a1a" transform="translate(0 -20.25) scale(1 1.08)" >, V</text>
<polygon points="601.7,259.6 605.4,263.3 601.7,267 598,263.3" fill="#7d7d7d" stroke="#000" stroke-width="1.0"/>
<text x="606.7" y="268.4" font-size="13.8" text-anchor="start" fill="#1a1a1a" transform="translate(0 -21.47) scale(1 1.08)" >, TAK-242</text>
<rect x="598.4" y="275.7" width="6.6" height="6.6" fill="#7d7d7d" stroke="#000" stroke-width="1.1" />
<text x="606.7" y="283.7" font-size="13.8" text-anchor="start" fill="#1a1a1a" transform="translate(0 -22.7) scale(1 1.08)" >, FPS-ZM1</text>
<polyline points="674.7,242 678.9,242 678.9,289.2 674.7,289.2" stroke="#000" stroke-width="1.3" fill="none" />
<text x="684.4" y="267.3" font-size="13.7" text-anchor="start" fill="#1a1a1a" transform="translate(0 -21.38) scale(1 1.08)" >in OHP-mice</text>
<text x="0" y="0" font-size="22.6" font-weight="bold" fill="#000" transform="translate(-0.29 358.7) scale(0.92 1.05)">E</text>
<line x1="62.5" y1="384.58" x2="62.5" y2="507.3" stroke="#000" stroke-width="1.5" />
<line x1="58.3" y1="506.6" x2="63.2" y2="506.6" stroke="#000" stroke-width="1.5" />
<line x1="58.3" y1="486.38" x2="63.2" y2="486.38" stroke="#000" stroke-width="1.5" />
<line x1="58.3" y1="466.16" x2="63.2" y2="466.16" stroke="#000" stroke-width="1.5" />
<line x1="58.3" y1="445.94" x2="63.2" y2="445.94" stroke="#000" stroke-width="1.5" />
<line x1="58.3" y1="425.72" x2="63.2" y2="425.72" stroke="#000" stroke-width="1.5" />
<line x1="58.3" y1="405.5" x2="63.2" y2="405.5" stroke="#000" stroke-width="1.5" />
<line x1="58.3" y1="385.28" x2="63.2" y2="385.28" stroke="#000" stroke-width="1.5" />
<text x="57.8" y="510.6" font-size="13.5" text-anchor="end" fill="#1a1a1a" transform="translate(0 -40.85) scale(1 1.08)" >0</text>
<text x="57.8" y="490.38" font-size="13.5" text-anchor="end" fill="#1a1a1a" transform="translate(0 -39.23) scale(1 1.08)" >2</text>
<text x="57.8" y="470.16" font-size="13.5" text-anchor="end" fill="#1a1a1a" transform="translate(0 -37.61) scale(1 1.08)" >4</text>
<text x="57.8" y="449.94" font-size="13.5" text-anchor="end" fill="#1a1a1a" transform="translate(0 -36) scale(1 1.08)" >6</text>
<text x="57.8" y="429.72" font-size="13.5" text-anchor="end" fill="#1a1a1a" transform="translate(0 -34.38) scale(1 1.08)" >8</text>
<text x="57.8" y="409.5" font-size="13.5" text-anchor="end" fill="#1a1a1a" transform="translate(0 -32.76) scale(1 1.08)" >10</text>
<text x="57.8" y="389.28" font-size="13.5" text-anchor="end" fill="#1a1a1a" transform="translate(0 -31.14) scale(1 1.08)" >12</text>
<line x1="57.9" y1="506.6" x2="146.9" y2="506.6" stroke="#000" stroke-width="1.5" />
<text x="20.4" y="450.2" font-size="13.5" text-anchor="middle" fill="#1a1a1a" textLength="90.5" lengthAdjust="spacingAndGlyphs" transform="rotate(-90 20.4 450.2)" >Number of Mφ</text>
<text x="35.4" y="448" font-size="13.5" text-anchor="middle" fill="#1a1a1a" transform="rotate(-90 35.4 448)" >in a visual field</text>
<line x1="74.5" y1="469" x2="74.5" y2="465.6" stroke="#000" stroke-width="1.3" />
<line x1="71.8" y1="465.6" x2="77.2" y2="465.6" stroke="#000" stroke-width="1.3" />
<rect x="67.67" y="469.77" width="13.65" height="36.83" fill="#fff" stroke="#000" stroke-width="1.55" />
<line x1="88.8" y1="472" x2="88.8" y2="469.3" stroke="#000" stroke-width="1.3" />
<line x1="86.1" y1="469.3" x2="91.5" y2="469.3" stroke="#000" stroke-width="1.3" />
<rect x="82.08" y="472.77" width="13.45" height="33.83" fill="#7d7d7d" stroke="#000" stroke-width="1.55" />
<line x1="120.75" y1="467.2" x2="120.75" y2="463.6" stroke="#000" stroke-width="1.3" />
<line x1="118.05" y1="463.6" x2="123.45" y2="463.6" stroke="#000" stroke-width="1.3" />
<rect x="113.78" y="467.97" width="13.95" height="38.63" fill="#fff" stroke="#000" stroke-width="1.55" />
<line x1="135.4" y1="399.4" x2="135.4" y2="393.2" stroke="#000" stroke-width="1.3" />
<line x1="132.7" y1="393.2" x2="138.1" y2="393.2" stroke="#000" stroke-width="1.3" />
<rect x="128.47" y="400.17" width="13.85" height="106.43" fill="#000" stroke="#000" stroke-width="1.55" />
<path d="M131.4 385.4V391M128.98 386.8L133.82 389.6M128.98 389.6L133.82 386.8" stroke="#7a7a7a" stroke-width="1.2" stroke-linecap="round" fill="none"/>
<path d="M138.4 385.4V391M135.98 386.8L140.82 389.6M135.98 389.6L140.82 386.8" stroke="#7a7a7a" stroke-width="1.2" stroke-linecap="round" fill="none"/>
<text x="79" y="514.3" font-size="13.5" text-anchor="end" fill="#1a1a1a" transform="rotate(-90 79 514.3)" >V</text>
<text x="94.6" y="514.3" font-size="13.5" text-anchor="end" fill="#1a1a1a" transform="rotate(-90 94.6 514.3)" >OHP</text>
<text x="125.7" y="514.3" font-size="13.5" text-anchor="end" fill="#1a1a1a" transform="rotate(-90 125.7 514.3)" >V</text>
<text x="141.2" y="514.3" font-size="13.5" text-anchor="end" fill="#1a1a1a" transform="rotate(-90 141.2 514.3)" >PCT</text>
<text x="0" y="0" font-size="22.6" font-weight="bold" fill="#000" transform="translate(162.81 358.8) scale(0.92 1.05)">F</text>
<rect x="219.7" y="354.2" width="290.4" height="16.8" fill="#fff" stroke="#000" stroke-width="1.4" />
<text x="365" y="366.9" font-size="13.5" text-anchor="middle" fill="#1a1a1a" textLength="97.8" lengthAdjust="spacingAndGlyphs" transform="translate(0 -29.35) scale(1 1.08)" >Cld or Lipo (i.p.)</text>
<line x1="227.8" y1="371.6" x2="227.8" y2="381.6" stroke="#000" stroke-width="1.6" stroke-dasharray="1.9,1.7"/>
<polygon points="224.5,380.1 231.1,380.1 227.8,386.6" fill="#000"/>
<line x1="476.5" y1="371.6" x2="476.5" y2="381.4" stroke="#000" stroke-width="1.6" stroke-dasharray="1.9,1.7"/>
<polygon points="473.2,379.9 479.8,379.9 476.5,386.4" fill="#000"/>
<rect x="257.8" y="388.6" width="99.4" height="17.2" fill="#fff" stroke="#000" stroke-width="1.4" />
<text x="307.5" y="401.6" font-size="13.5" text-anchor="middle" fill="#1a1a1a" transform="translate(0 -32.13) scale(1 1.08)" >OHP or V (i.p.)</text>
<line x1="268" y1="406.2" x2="268" y2="415.7" stroke="#000" stroke-width="1.6" />
<polygon points="264.7,414.2 271.3,414.2 268,420.7" fill="#000"/>
<line x1="213.1" y1="405.62" x2="213.1" y2="527.9" stroke="#000" stroke-width="1.5" />
<line x1="208.3" y1="527.2" x2="213.8" y2="527.2" stroke="#000" stroke-width="1.5" />
<line x1="208.3" y1="496.98" x2="213.8" y2="496.98" stroke="#000" stroke-width="1.5" />
<line x1="208.3" y1="466.76" x2="213.8" y2="466.76" stroke="#000" stroke-width="1.5" />
<line x1="208.3" y1="436.54" x2="213.8" y2="436.54" stroke="#000" stroke-width="1.5" />
<line x1="208.3" y1="406.32" x2="213.8" y2="406.32" stroke="#000" stroke-width="1.5" />
<text x="205.8" y="531.6" font-size="13.5" text-anchor="end" fill="#1a1a1a" transform="translate(0 -42.53) scale(1 1.08)" >0</text>
<text x="205.8" y="501.38" font-size="13.5" text-anchor="end" fill="#1a1a1a" transform="translate(0 -40.11) scale(1 1.08)" >0.2</text>
<text x="205.8" y="471.16" font-size="13.5" text-anchor="end" fill="#1a1a1a" transform="translate(0 -37.69) scale(1 1.08)" >0.4</text>
<text x="205.8" y="440.94" font-size="13.5" text-anchor="end" fill="#1a1a1a" transform="translate(0 -35.28) scale(1 1.08)" >0.6</text>
<text x="205.8" y="410.72" font-size="13.5" text-anchor="end" fill="#1a1a1a" transform="translate(0 -32.86) scale(1 1.08)" >0.8</text>
<text x="176.4" y="467.9" font-size="13.5" text-anchor="middle" fill="#1a1a1a" textLength="80.5" lengthAdjust="spacingAndGlyphs" transform="rotate(-90 176.4 467.9)" >Threshold (g)</text>
<line x1="225.6" y1="527.2" x2="497.4" y2="527.2" stroke="#000" stroke-width="1.5" />
<line x1="226.3" y1="527.2" x2="226.3" y2="531.6" stroke="#000" stroke-width="1.5" />
<line x1="268.5" y1="527.2" x2="268.5" y2="531.6" stroke="#000" stroke-width="1.5" />
<line x1="310.4" y1="527.2" x2="310.4" y2="531.6" stroke="#000" stroke-width="1.5" />
<line x1="351.8" y1="527.2" x2="351.8" y2="531.6" stroke="#000" stroke-width="1.5" />
<line x1="372.5" y1="527.2" x2="372.5" y2="531.6" stroke="#000" stroke-width="1.5" />
<line x1="393.2" y1="527.2" x2="393.2" y2="531.6" stroke="#000" stroke-width="1.5" />
<line x1="413.9" y1="527.2" x2="413.9" y2="531.6" stroke="#000" stroke-width="1.5" />
<line x1="434.6" y1="527.2" x2="434.6" y2="531.6" stroke="#000" stroke-width="1.5" />
<line x1="455.3" y1="527.2" x2="455.3" y2="531.6" stroke="#000" stroke-width="1.5" />
<line x1="476" y1="527.2" x2="476" y2="531.6" stroke="#000" stroke-width="1.5" />
<line x1="496.7" y1="527.2" x2="496.7" y2="531.6" stroke="#000" stroke-width="1.5" />
<polygon points="242.35,532.45 245.65,532.45 251.25,521.15 247.95,521.15" fill="#fff"/>
<line x1="242.35" y1="532.45" x2="247.95" y2="521.15" stroke="#000" stroke-width="1.2" />
<line x1="245.65" y1="532.45" x2="251.25" y2="521.15" stroke="#000" stroke-width="1.2" />
<polygon points="325.55,532.45 328.85,532.45 334.45,521.15 331.15,521.15" fill="#fff"/>
<line x1="325.55" y1="532.45" x2="331.15" y2="521.15" stroke="#000" stroke-width="1.2" />
<line x1="328.85" y1="532.45" x2="334.45" y2="521.15" stroke="#000" stroke-width="1.2" />
<text x="226.8" y="546.9" font-size="13.5" text-anchor="middle" fill="#1a1a1a" transform="translate(0 -43.75) scale(1 1.08)" >-24</text>
<text x="268.5" y="546.9" font-size="13.5" text-anchor="middle" fill="#1a1a1a" transform="translate(0 -43.75) scale(1 1.08)" >0</text>
<text x="307" y="546.9" font-size="13.5" text-anchor="start" fill="#1a1a1a" textLength="27.7" lengthAdjust="spacingAndGlyphs" transform="translate(0 -43.75) scale(1 1.08)" >5 (h)</text>
<text x="351.8" y="546.9" font-size="13.5" text-anchor="middle" fill="#1a1a1a" transform="translate(0 -43.75) scale(1 1.08)" >1</text>
<text x="372.5" y="546.9" font-size="13.5" text-anchor="middle" fill="#1a1a1a" transform="translate(0 -43.75) scale(1 1.08)" >2</text>
<text x="393.2" y="546.9" font-size="13.5" text-anchor="middle" fill="#1a1a1a" transform="translate(0 -43.75) scale(1 1.08)" >3</text>
<text x="413.9" y="546.9" font-size="13.5" text-anchor="middle" fill="#1a1a1a" transform="translate(0 -43.75) scale(1 1.08)" >4</text>
<text x="434.6" y="546.9" font-size="13.5" text-anchor="middle" fill="#1a1a1a" transform="translate(0 -43.75) scale(1 1.08)" >5</text>
<text x="455.3" y="546.9" font-size="13.5" text-anchor="middle" fill="#1a1a1a" transform="translate(0 -43.75) scale(1 1.08)" >6</text>
<text x="476" y="546.9" font-size="13.5" text-anchor="middle" fill="#1a1a1a" transform="translate(0 -43.75) scale(1 1.08)" >7</text>
<text x="496.7" y="546.9" font-size="13.5" text-anchor="middle" fill="#1a1a1a" transform="translate(0 -43.75) scale(1 1.08)" >8</text>
<text x="505.8" y="546.9" font-size="13.5" text-anchor="start" fill="#1a1a1a" textLength="29.6" lengthAdjust="spacingAndGlyphs" transform="translate(0 -43.75) scale(1 1.08)" >(day)</text>
<text x="277" y="564.6" font-size="13.5" text-anchor="start" fill="#1a1a1a" textLength="171" lengthAdjust="spacingAndGlyphs" transform="translate(0 -45.17) scale(1 1.08)" >Time after i.p. OHP injection</text>
<polyline points="268.8,429.6 308.6,431.8 350.5,429.6 391.9,429.6 433.5,429.6 475.2,429.6 496,429.6" stroke="#000" stroke-width="1.0" fill="none" />
<polyline points="223.7,431 265.5,431 307,497 349.8,494.5 391.9,493.5 433,496.2 475.2,493.5 495.5,495" stroke="#000" stroke-width="1.1" fill="none" />
<polyline points="227.3,427.8 268,429.7 311.1,495.1 352.6,495.3 394.3,493.8 435.4,491.7 477,493.8 498.4,493.6" stroke="#000" stroke-width="1.1" fill="none" />
<polygon points="242,435 245,435 250.6,424 247.6,424" fill="#fff"/>
<line x1="242" y1="435" x2="247.6" y2="424" stroke="#000" stroke-width="1.0" />
<line x1="245" y1="435" x2="250.6" y2="424" stroke="#000" stroke-width="1.0" />
<polygon points="327.3,499.8 330.3,499.8 335.9,488.8 332.9,488.8" fill="#fff"/>
<line x1="327.3" y1="499.8" x2="332.9" y2="488.8" stroke="#000" stroke-width="1.0" />
<line x1="330.3" y1="499.8" x2="335.9" y2="488.8" stroke="#000" stroke-width="1.0" />
<polygon points="325.3,434.4 328.3,434.4 333.9,423.4 330.9,423.4" fill="#fff"/>
<line x1="325.3" y1="434.4" x2="330.9" y2="423.4" stroke="#000" stroke-width="1.0" />
<line x1="328.3" y1="434.4" x2="333.9" y2="423.4" stroke="#000" stroke-width="1.0" />
<line x1="308.6" y1="428.8" x2="308.6" y2="425.8" stroke="#000" stroke-width="1.4" />
<line x1="306.2" y1="425.8" x2="311" y2="425.8" stroke="#000" stroke-width="1.4" />
<line x1="350.5" y1="426.6" x2="350.5" y2="425.1" stroke="#000" stroke-width="1.4" />
<line x1="348.1" y1="425.1" x2="352.9" y2="425.1" stroke="#000" stroke-width="1.4" />
<line x1="391.9" y1="426.6" x2="391.9" y2="425.1" stroke="#000" stroke-width="1.4" />
<line x1="389.5" y1="425.1" x2="394.3" y2="425.1" stroke="#000" stroke-width="1.4" />
<line x1="433.5" y1="426.6" x2="433.5" y2="425.1" stroke="#000" stroke-width="1.4" />
<line x1="431.1" y1="425.1" x2="435.9" y2="425.1" stroke="#000" stroke-width="1.4" />
<line x1="475.2" y1="426.6" x2="475.2" y2="425.1" stroke="#000" stroke-width="1.4" />
<line x1="472.8" y1="425.1" x2="477.6" y2="425.1" stroke="#000" stroke-width="1.4" />
<line x1="496" y1="426.6" x2="496" y2="425.1" stroke="#000" stroke-width="1.4" />
<line x1="493.6" y1="425.1" x2="498.4" y2="425.1" stroke="#000" stroke-width="1.4" />
<line x1="227.3" y1="424" x2="227.3" y2="422.6" stroke="#000" stroke-width="1.3" />
<line x1="224.8" y1="422.6" x2="229.8" y2="422.6" stroke="#000" stroke-width="1.3" />
<line x1="268" y1="426" x2="268" y2="424.5" stroke="#000" stroke-width="1.3" />
<line x1="265.5" y1="424.5" x2="270.5" y2="424.5" stroke="#000" stroke-width="1.3" />
<circle cx="268.8" cy="429.6" r="3.6" fill="#fff" stroke="#000" stroke-width="1.1"/>
<circle cx="308.6" cy="431.8" r="3.6" fill="#fff" stroke="#000" stroke-width="1.1"/>
<circle cx="350.5" cy="429.6" r="3.6" fill="#fff" stroke="#000" stroke-width="1.1"/>
<circle cx="391.9" cy="429.6" r="3.6" fill="#fff" stroke="#000" stroke-width="1.1"/>
<circle cx="433.5" cy="429.6" r="3.6" fill="#fff" stroke="#000" stroke-width="1.1"/>
<circle cx="475.2" cy="429.6" r="3.6" fill="#fff" stroke="#000" stroke-width="1.1"/>
<circle cx="496" cy="429.6" r="3.6" fill="#fff" stroke="#000" stroke-width="1.1"/>
<polygon points="223.7,426.8 227.69,434.36 219.71,434.36" fill="#7d7d7d" stroke="#000" stroke-width="1.0"/>
<polygon points="265.5,426.8 269.49,434.36 261.51,434.36" fill="#7d7d7d" stroke="#000" stroke-width="1.0"/>
<polygon points="307,492.8 310.99,500.36 303.01,500.36" fill="#7d7d7d" stroke="#000" stroke-width="1.0"/>
<polygon points="349.8,490.3 353.79,497.86 345.81,497.86" fill="#7d7d7d" stroke="#000" stroke-width="1.0"/>
<polygon points="391.9,489.3 395.89,496.86 387.91,496.86" fill="#7d7d7d" stroke="#000" stroke-width="1.0"/>
<polygon points="433,492 436.99,499.56 429.01,499.56" fill="#7d7d7d" stroke="#000" stroke-width="1.0"/>
<polygon points="475.2,489.3 479.19,496.86 471.21,496.86" fill="#7d7d7d" stroke="#000" stroke-width="1.0"/>
<polygon points="495.5,490.8 499.49,498.36 491.51,498.36" fill="#7d7d7d" stroke="#000" stroke-width="1.0"/>
<polygon points="227.3,423.8 231.3,427.8 227.3,431.8 223.3,427.8" fill="#7d7d7d" stroke="#000" stroke-width="1.0"/>
<polygon points="268,425.7 272,429.7 268,433.7 264,429.7" fill="#7d7d7d" stroke="#000" stroke-width="1.0"/>
<polygon points="311.1,491.1 315.1,495.1 311.1,499.1 307.1,495.1" fill="#7d7d7d" stroke="#000" stroke-width="1.0"/>
<polygon points="352.6,491.3 356.6,495.3 352.6,499.3 348.6,495.3" fill="#7d7d7d" stroke="#000" stroke-width="1.0"/>
<polygon points="394.3,489.8 398.3,493.8 394.3,497.8 390.3,493.8" fill="#7d7d7d" stroke="#000" stroke-width="1.0"/>
<polygon points="435.4,487.7 439.4,491.7 435.4,495.7 431.4,491.7" fill="#7d7d7d" stroke="#000" stroke-width="1.0"/>
<polygon points="477,489.8 481,493.8 477,497.8 473,493.8" fill="#7d7d7d" stroke="#000" stroke-width="1.0"/>
<polygon points="498.4,489.6 502.4,493.6 498.4,497.6 494.4,493.6" fill="#7d7d7d" stroke="#000" stroke-width="1.0"/>
<path d="M303.5 501.2V506.8M301.08 502.6L305.92 505.4M301.08 505.4L305.92 502.6" stroke="#7a7a7a" stroke-width="1.2" stroke-linecap="round" fill="none"/>
<path d="M310.5 501.2V506.8M308.08 502.6L312.92 505.4M308.08 505.4L312.92 502.6" stroke="#7a7a7a" stroke-width="1.2" stroke-linecap="round" fill="none"/>
<path d="M346.5 500.15V504.85M344.46 501.32L348.54 503.68M344.46 503.68L348.54 501.32" stroke="#7a7a7a" stroke-width="1.2" stroke-linecap="round" fill="none"/>
<path d="M388.5 498.25V502.95M386.46 499.43L390.54 501.78M386.46 501.78L390.54 499.43" stroke="#7a7a7a" stroke-width="1.2" stroke-linecap="round" fill="none"/>
<path d="M430 501.5V507.1M427.58 502.9L432.42 505.7M427.58 505.7L432.42 502.9" stroke="#7a7a7a" stroke-width="1.2" stroke-linecap="round" fill="none"/>
<path d="M437 501.5V507.1M434.58 502.9L439.42 505.7M434.58 505.7L439.42 502.9" stroke="#7a7a7a" stroke-width="1.2" stroke-linecap="round" fill="none"/>
<path d="M472.2 498.25V502.95M470.16 499.43L474.24 501.78M470.16 501.78L474.24 499.43" stroke="#7a7a7a" stroke-width="1.2" stroke-linecap="round" fill="none"/>
<path d="M491.5 501V506.6M489.08 502.4L493.92 505.2M489.08 505.2L493.92 502.4" stroke="#7a7a7a" stroke-width="1.2" stroke-linecap="round" fill="none"/>
<path d="M498.5 501V506.6M496.08 502.4L500.92 505.2M496.08 505.2L500.92 502.4" stroke="#7a7a7a" stroke-width="1.2" stroke-linecap="round" fill="none"/>
<rect x="216.5" y="571.3" width="275.2" height="39.6" fill="#fff" stroke="#000" stroke-width="1.3" />
<circle cx="224.5" cy="583.5" r="3.3" fill="#fff" stroke="#000" stroke-width="1.0"/>
<text x="240.7" y="588.7" font-size="13.5" text-anchor="start" fill="#1a1a1a" textLength="86.3" lengthAdjust="spacingAndGlyphs" transform="translate(0 -47.1) scale(1 1.08)" >Lipo in V-mice</text>
<polygon points="350,580.6 353.42,587.08 346.58,587.08" fill="#7d7d7d" stroke="#000" stroke-width="1.0"/>
<polygon points="350,595.5 353.6,599.1 350,602.7 346.4,599.1" fill="#7d7d7d" stroke="#000" stroke-width="1.0"/>
<text x="365.7" y="588.6" font-size="13.5" text-anchor="start" fill="#1a1a1a" transform="translate(0 -47.09) scale(1 1.08)" >Lipo</text>
<text x="365.7" y="604.6" font-size="13.5" text-anchor="start" fill="#1a1a1a" transform="translate(0 -48.37) scale(1 1.08)" >Cld</text>
<polyline points="391,576.8 395.3,576.8 395.3,605.8 391,605.8" stroke="#000" stroke-width="1.3" fill="none" />
<text x="404.3" y="594.8" font-size="13.5" text-anchor="start" fill="#1a1a1a" textLength="78" lengthAdjust="spacingAndGlyphs" transform="translate(0 -47.58) scale(1 1.08)" >in OHP-mice</text>
<text x="0" y="0" font-size="22.6" font-weight="bold" fill="#000" transform="translate(550.05 359.2) scale(0.92 1.05)">G</text>
<line x1="598.1" y1="384.46" x2="598.1" y2="507.3" stroke="#000" stroke-width="1.5" />
<line x1="593.7" y1="506.6" x2="598.8" y2="506.6" stroke="#000" stroke-width="1.5" />
<line x1="593.7" y1="476.24" x2="598.8" y2="476.24" stroke="#000" stroke-width="1.5" />
<line x1="593.7" y1="445.88" x2="598.8" y2="445.88" stroke="#000" stroke-width="1.5" />
<line x1="593.7" y1="415.52" x2="598.8" y2="415.52" stroke="#000" stroke-width="1.5" />
<line x1="593.7" y1="385.16" x2="598.8" y2="385.16" stroke="#000" stroke-width="1.5" />
<text x="591.2" y="510.8" font-size="13.5" text-anchor="end" fill="#1a1a1a" transform="translate(0 -40.86) scale(1 1.08)" >0</text>
<text x="591.2" y="480.44" font-size="13.5" text-anchor="end" fill="#1a1a1a" transform="translate(0 -38.44) scale(1 1.08)" >0.2</text>
<text x="591.2" y="450.08" font-size="13.5" text-anchor="end" fill="#1a1a1a" transform="translate(0 -36.01) scale(1 1.08)" >0.4</text>
<text x="591.2" y="419.72" font-size="13.5" text-anchor="end" fill="#1a1a1a" transform="translate(0 -33.58) scale(1 1.08)" >0.6</text>
<text x="591.2" y="389.36" font-size="13.5" text-anchor="end" fill="#1a1a1a" transform="translate(0 -31.15) scale(1 1.08)" >0.8</text>
<text x="560.5" y="448.4" font-size="13.5" text-anchor="middle" fill="#1a1a1a" textLength="82" lengthAdjust="spacingAndGlyphs" transform="rotate(-90 560.5 448.4)" >Threshold (g)</text>
<line x1="594" y1="506.6" x2="661.8" y2="506.6" stroke="#000" stroke-width="1.5" />
<line x1="610.65" y1="408.9" x2="610.65" y2="405.6" stroke="#000" stroke-width="1.3" />
<line x1="607.95" y1="405.6" x2="613.35" y2="405.6" stroke="#000" stroke-width="1.3" />
<rect x="603.57" y="409.67" width="14.15" height="96.93" fill="#fff" stroke="#000" stroke-width="1.55" />
<line x1="630.95" y1="471.3" x2="630.95" y2="470.4" stroke="#000" stroke-width="1.3" />
<line x1="628.25" y1="470.4" x2="633.65" y2="470.4" stroke="#000" stroke-width="1.3" />
<rect x="624.17" y="472.07" width="13.55" height="34.53" fill="#7d7d7d" stroke="#000" stroke-width="1.55" />
<line x1="650.65" y1="471.7" x2="650.65" y2="469.2" stroke="#000" stroke-width="1.3" />
<line x1="647.95" y1="469.2" x2="653.35" y2="469.2" stroke="#000" stroke-width="1.3" />
<rect x="643.97" y="472.47" width="13.35" height="34.13" fill="url(#hatch)" stroke="#000" stroke-width="1.55" />
<path d="M628.3 458V463.6M625.88 459.4L630.72 462.2M625.88 462.2L630.72 459.4" stroke="#7a7a7a" stroke-width="1.2" stroke-linecap="round" fill="none"/>
<path d="M635.3 458V463.6M632.88 459.4L637.72 462.2M632.88 462.2L637.72 459.4" stroke="#7a7a7a" stroke-width="1.2" stroke-linecap="round" fill="none"/>
<text x="611.5" y="522.4" font-size="13.5" text-anchor="middle" fill="#1a1a1a" transform="translate(0 -41.79) scale(1 1.08)" >V</text>
<text x="631.2" y="522.4" font-size="13.5" text-anchor="middle" fill="#1a1a1a" transform="translate(0 -41.79) scale(1 1.08)" >V</text>
<text x="654.3" y="512.8" font-size="13.5" text-anchor="end" fill="#1a1a1a" transform="rotate(-90 654.3 512.8)" >Mino</text>
<line x1="603" y1="547" x2="617.9" y2="547" stroke="#000" stroke-width="1.4" />
<line x1="624.2" y1="547" x2="657.9" y2="547" stroke="#000" stroke-width="1.4" />
<text x="610.8" y="561.4" font-size="13.5" text-anchor="middle" fill="#1a1a1a" transform="translate(0 -44.91) scale(1 1.08)" >V</text>
<text x="641.3" y="561.4" font-size="13.5" text-anchor="middle" fill="#1a1a1a" transform="translate(0 -44.91) scale(1 1.08)" >OHP</text>
<text x="0" y="0" font-size="22.6" font-weight="bold" fill="#000" transform="translate(663.58 358.8) scale(0.94 1.05)">H</text>
<line x1="685.6" y1="384.86" x2="685.6" y2="507.7" stroke="#000" stroke-width="1.5" />
<line x1="681" y1="507" x2="686.3" y2="507" stroke="#000" stroke-width="1.5" />
<line x1="681" y1="476.64" x2="686.3" y2="476.64" stroke="#000" stroke-width="1.5" />
<line x1="681" y1="446.28" x2="686.3" y2="446.28" stroke="#000" stroke-width="1.5" />
<line x1="681" y1="415.92" x2="686.3" y2="415.92" stroke="#000" stroke-width="1.5" />
<line x1="681" y1="385.56" x2="686.3" y2="385.56" stroke="#000" stroke-width="1.5" />
<line x1="680.9" y1="507" x2="748.8" y2="507" stroke="#000" stroke-width="1.5" />
<line x1="698" y1="408.5" x2="698" y2="404.2" stroke="#000" stroke-width="1.3" />
<line x1="695.3" y1="404.2" x2="700.7" y2="404.2" stroke="#000" stroke-width="1.3" />
<rect x="690.57" y="409.27" width="14.85" height="97.72" fill="#fff" stroke="#000" stroke-width="1.55" />
<line x1="717.1" y1="474.1" x2="717.1" y2="471.6" stroke="#000" stroke-width="1.3" />
<line x1="714.4" y1="471.6" x2="719.8" y2="471.6" stroke="#000" stroke-width="1.3" />
<rect x="709.67" y="474.88" width="14.85" height="32.12" fill="#7d7d7d" stroke="#000" stroke-width="1.55" />
<line x1="736.7" y1="457.3" x2="736.7" y2="454" stroke="#000" stroke-width="1.3" />
<line x1="734" y1="454" x2="739.4" y2="454" stroke="#000" stroke-width="1.3" />
<rect x="729.77" y="458.07" width="13.85" height="48.92" fill="url(#hatch)" stroke="#000" stroke-width="1.55" />
<path d="M714.4 461.2V466.8M711.98 462.6L716.82 465.4M711.98 465.4L716.82 462.6" stroke="#7a7a7a" stroke-width="1.2" stroke-linecap="round" fill="none"/>
<path d="M721.4 461.2V466.8M718.98 462.6L723.82 465.4M718.98 465.4L723.82 462.6" stroke="#7a7a7a" stroke-width="1.2" stroke-linecap="round" fill="none"/>
<text x="698.2" y="523.2" font-size="13.5" text-anchor="middle" fill="#1a1a1a" transform="translate(0 -41.86) scale(1 1.08)" >V</text>
<text x="717.9" y="523.2" font-size="13.5" text-anchor="middle" fill="#1a1a1a" transform="translate(0 -41.86) scale(1 1.08)" >V</text>
<text x="739.6" y="514.2" font-size="13.5" text-anchor="end" fill="#1a1a1a" transform="rotate(-90 739.6 514.2)" >EP</text>
<text x="750.1" y="522.8" font-size="14" text-anchor="start" fill="#1a1a1a" textLength="27" lengthAdjust="spacingAndGlyphs" transform="translate(0 -41.82) scale(1 1.08)" >(i.p.)</text>
<line x1="690.8" y1="538.4" x2="704.8" y2="538.4" stroke="#000" stroke-width="1.4" />
<line x1="710.3" y1="538.4" x2="744.1" y2="538.4" stroke="#000" stroke-width="1.4" />
<text x="697.9" y="553.2" font-size="13.5" text-anchor="middle" fill="#1a1a1a" transform="translate(0 -44.26) scale(1 1.08)" >V</text>
<text x="726.8" y="553.2" font-size="13.5" text-anchor="middle" fill="#1a1a1a" transform="translate(0 -44.26) scale(1 1.08)" >OHP</text>
<text x="750.1" y="552.7" font-size="14" text-anchor="start" fill="#1a1a1a" textLength="27" lengthAdjust="spacingAndGlyphs" transform="translate(0 -44.22) scale(1 1.08)" >(i.p.)</text>
</svg></body></html>
